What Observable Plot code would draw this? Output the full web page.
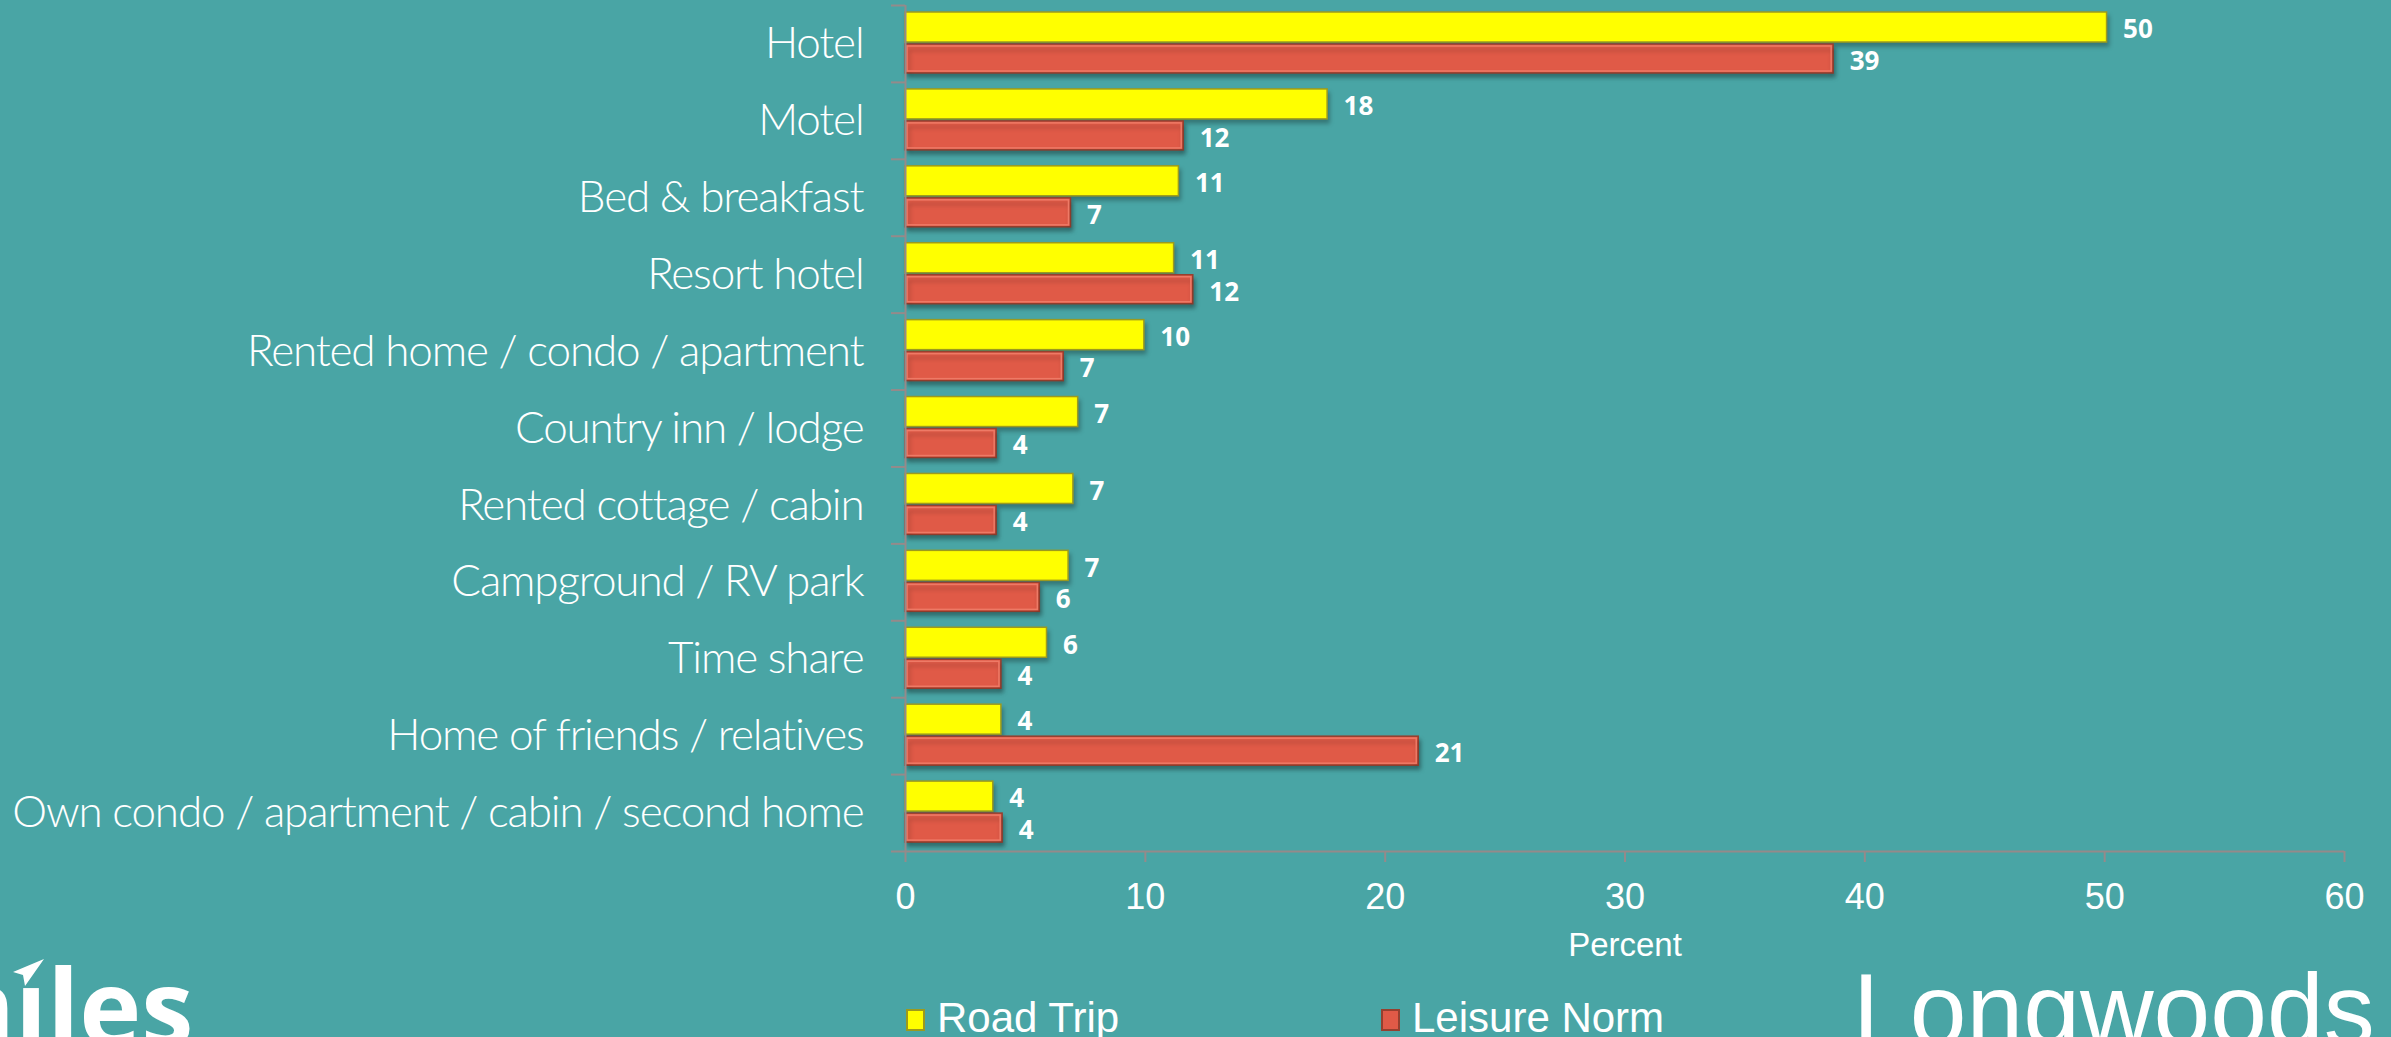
<!DOCTYPE html>
<html>
<head>
<meta charset="utf-8">
<script src="https://cdn.jsdelivr.net/npm/d3@7"></script>
<script src="https://cdn.jsdelivr.net/npm/@observablehq/plot@0.6"></script>
<style>
  html, body { margin: 0; padding: 0; background: #49a5a5; }
  #wrap { position: relative; width: 2391px; height: 1037px; overflow: hidden; background: #49a5a5; }
  #chart svg { display: block; }
  #chart g[aria-label="bar"] { filter: drop-shadow(2px 4px 2px rgba(0,0,0,0.28)); }
  #chart g[aria-label="y-axis tick label"] text { letter-spacing: -1.15px; }
  .legend { position: absolute; top: 990px; left: 0; width: 2391px; height: 47px;
            font-family: "Liberation Sans", Arial, sans-serif; font-size: 42px; color: #fff; }
  .legend .item { position: absolute; top: 4px; line-height: 47px; height: 47px; white-space: nowrap; }
  .legend .sw { position: absolute; width: 19px; height: 22px; top: 15px; box-sizing: border-box; }
  .legend .lab { position: absolute; top: 0; }
  #deco { position: absolute; left: 0; top: 0; pointer-events: none; }
</style>
</head>
<body>
<div id="wrap">
  <div id="chart"></div>
  <div class="legend" id="legend"></div>
  <svg id="deco" width="2391" height="1037"></svg>
</div>
<script>
// ---- data ----
const categories = [
  "Hotel",
  "Motel",
  "Bed & breakfast",
  "Resort hotel",
  "Rented home / condo / apartment",
  "Country inn / lodge",
  "Rented cottage / cabin",
  "Campground / RV park",
  "Time share",
  "Home of friends / relatives",
  "Own condo / apartment / cabin / second home"
];
const roadTrip     = [50.1, 17.6, 11.4, 11.2, 9.96, 7.2, 7.0, 6.8, 5.9, 4.0, 3.66];
const leisureNorm  = [38.7, 11.6, 6.9, 12.0, 6.6, 3.8, 3.8, 5.6, 4.0, 21.4, 4.05];
const roadTripLabels    = [50, 18, 11, 11, 10, 7, 7, 7, 6, 4, 4];
const leisureNormLabels = [39, 12, 7, 12, 7, 4, 4, 6, 4, 21, 4];
const seriesNames = ["Road Trip", "Leisure Norm"];
const xTicks = [0, 10, 20, 30, 40, 50, 60];
const xLabel = "Percent";

// ---- styles ----
const colors = {"Road Trip": "#ffff00", "Leisure Norm": "#e05a47"};
const edges  = {"Road Trip": "#9c9a1e", "Leisure Norm": "#96402f"};
const glints = {"Road Trip": "#ffff66", "Leisure Norm": "#ee7a66"};
const axisGray = "#958a8a";

// ---- layout ----
const W = 2391, H = 990;
const mTop = 5, mBottom = H - 851, mLeft = 905, mRight = W - 2344;
const step = (H - mTop - mBottom) / categories.length;

const rows = categories.map((c, i) => ({
  category: c,
  road: roadTrip[i], leisure: leisureNorm[i],
  roadLabel: roadTripLabels[i], leisureLabel: leisureNormLabels[i]
}));

const plot = Plot.plot({
  width: W, height: H,
  marginTop: mTop, marginBottom: mBottom, marginLeft: mLeft, marginRight: mRight,
  style: {background: "transparent", color: "#fff", overflow: "visible"},
  x: {domain: [0, 60], ticks: xTicks},
  y: {domain: categories, paddingInner: 0, paddingOuter: 0, round: false},
  marks: [
    Plot.barX(rows, {x: "road", y: "category", fill: colors["Road Trip"], stroke: edges["Road Trip"], strokeWidth: 1.5,
      insetTop: 7, insetBottom: step - 37}),
    Plot.barX(rows, {x: "leisure", y: "category", fill: colors["Leisure Norm"], stroke: edges["Leisure Norm"], strokeWidth: 1.5,
      insetTop: 39, insetBottom: step - 68}),
    // inner bevel highlight
    Plot.barX(rows, {x: "leisure", y: "category", fill: "none", stroke: glints["Leisure Norm"], strokeWidth: 1.5,
      insetTop: 41, insetBottom: step - 66, insetLeft: 2, insetRight: 2}),
    // category boundary ticks on the y axis
    Plot.ruleY(categories, {y: d => d, x1: 0, x2: 0, insetLeft: -14, dy: -step / 2, stroke: axisGray, strokeWidth: 2}),
    // y axis line and x axis line
    Plot.ruleX([0], {stroke: axisGray, strokeWidth: 2}),
    Plot.ruleY([categories[categories.length - 1]], {dy: step / 2, insetLeft: -14, stroke: axisGray, strokeWidth: 2}),
    Plot.axisY({tickSize: 0, tickPadding: 42, fontSize: 44, fontFamily: "Lato", fontWeight: 300, fill: "#fff", label: null}),
    Plot.axisX({ticks: xTicks, tickSize: 11, tickPadding: 21, stroke: axisGray, strokeWidth: 2, fill: "#fff",
      fontSize: 36, fontFamily: "Liberation Sans", label: null}),
    Plot.text([xLabel], {frameAnchor: "bottom", lineAnchor: "middle", dy: 94, fontSize: 33,
      fontFamily: "Liberation Sans", fill: "#fff"}),
    // value labels
    Plot.text(rows, {x: "road", y: "category", text: "roadLabel", textAnchor: "start", dx: 16, dy: -14,
      fill: "#fff", fontSize: 26, fontWeight: "bold", fontFamily: "Open Sans"}),
    Plot.text(rows, {x: "leisure", y: "category", text: "leisureLabel", textAnchor: "start", dx: 16, dy: 17.5,
      fill: "#fff", fontSize: 26, fontWeight: "bold", fontFamily: "Open Sans"})
  ]
});
document.getElementById("chart").appendChild(plot);

// ---- legend ----
const legend = document.getElementById("legend");
const legendX = [906, 1381];
seriesNames.forEach((name, i) => {
  const item = document.createElement("div");
  item.className = "item";
  item.style.left = legendX[i] + "px";
  const sw = document.createElement("div");
  sw.className = "sw";
  sw.style.left = "0px";
  sw.style.background = colors[name];
  sw.style.border = "2px solid " + edges[name];
  const lab = document.createElement("span");
  lab.className = "lab";
  lab.style.left = "31px";
  lab.textContent = name;
  item.appendChild(sw);
  item.appendChild(lab);
  legend.appendChild(item);
});

// ---- logos (decorations) ----
const deco = d3.select("#deco");
deco.append("text").attr("x", -88).attr("y", 1046)
  .attr("font-family", "Open Sans").attr("font-weight", 700).attr("font-size", 105)
  .attr("fill", "#fff").text("mıles");
deco.append("polygon").attr("points", "44,959 13,972 23,975 25,986").attr("fill", "#fff");
deco.append("text").attr("x", 1853).attr("y", 1045)
  .attr("font-family", "Liberation Sans").attr("font-size", 102)
  .attr("fill", "#fff").text("Longwoods");
</script>
</body>
</html>
